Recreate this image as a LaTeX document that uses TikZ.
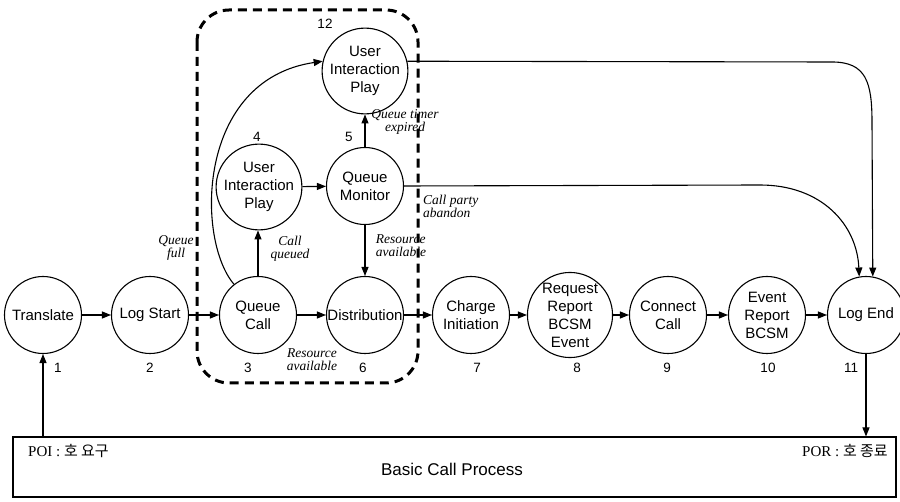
\documentclass[tikz,border=0pt]{standalone}
\usepackage{fontspec}
\setmainfont{Liberation Sans}
\newfontfamily\serifit{Liberation Serif}
\newfontfamily\kr{Noto Sans CJK KR}
\usetikzlibrary{arrows.meta}
\begin{document}
\begin{tikzpicture}[x=1pt,y=-1pt,
  state/.style={circle,draw,line width=1.1pt,minimum size=77pt,inner sep=0pt,align=center,
    font=\fontsize{15}{18}\selectfont},
  num/.style={font=\fontsize{13.5}{14}\selectfont},
  lab/.style={font=\serifit\itshape\fontsize{13.5}{13}\selectfont,align=center,inner sep=0pt},
  arr/.style={line width=1.1pt,-{Triangle[length=9pt,width=7pt]}},
  ln/.style={line width=1.1pt}]
\useasboundingbox (0,0) rectangle (900,502);
% dashed region
\draw[line width=3pt,dash pattern=on 9pt off 6pt,rounded corners=32pt] (197,10) rectangle (418,383);
% nodes
\node[state] (tr) at (43,315) {Translate};
\node[state] (ls) at (150,315) {Log Start};
\node[state] (qc) at (258,315) {Queue\\Call};
\node[state] (di) at (365,315) {Distribution};
\node[state] (ci) at (471,315) {Charge\\Initiation};
\node[state] (rr) at (570,315) {Request\\Report\\BCSM\\Event};
\node[state] (cc) at (668,315) {Connect\\Call};
\node[state] (er) at (767,315) {Event\\Report\\BCSM};
\node[state] (le) at (866,315) {Log End};
\node[state] (ui4) at (259,187) {User\\Interaction\\Play};
\node[state] (qm) at (365,186) {Queue\\Monitor};
\node[state] (ui12) at (365,71) {User\\Interaction\\Play};
% numbers
\node[num] (n1) at (58,368) {1};
\node[num] (n2) at (150,368) {2};
\node[num] (n3) at (248,368) {3};
\node[num] (n6) at (363,368) {6};
\node[num] (n7) at (477,368) {7};
\node[num] (n8) at (577,368) {8};
\node[num] (n9) at (667,368) {9};
\node[num] (n10) at (768,368) {10};
\node[num] (n11) at (851,368) {11};
\node[num] (n12) at (325,24) {12};
\node[num] (n4) at (257,137) {4};
\node[num] (n5) at (349,137) {5};
% bottom box
\node[draw,line width=1.1pt,minimum width=883pt,minimum height=60pt,inner sep=0pt] (bcp) at (454.5,467) {};
\node[font=\fontsize{17}{18}\selectfont] (bcpt) at (452,469) {Basic Call Process};
\node[anchor=west,font=\fontsize{15}{16}\selectfont,inner sep=0pt] (poi) at (28,451) {\serifit POI : \kr 호 요구};
\node[anchor=east,font=\fontsize{15}{16}\selectfont,inner sep=0pt] (por) at (888,451) {\serifit POR : \kr 호 종료};
% main chain
\draw[arr] (tr) -- (ls);
\draw[arr] (ls) -- (qc);
\draw[arr] (qc) -- (di);
\draw[arr] (di) -- (ci);
\draw[arr] (ci) -- (rr);
\draw[arr] (rr) -- (cc);
\draw[arr] (cc) -- (er);
\draw[arr] (er) -- (le);
\draw[arr] (bcp.north -| tr.south) -- (tr.south);
\draw[arr] (le.south) -- (bcp.north -| le.south);
% queue part
\draw[arr] (qc.north) -- (qc.north |- ui4.south);
\draw[arr] (ui4) -- (qm);
\draw[arr] (qm) -- (di);
\draw[arr] (qm) -- (ui12);
\draw[arr] (qc.128) .. controls (196,240) and (196,80) .. (ui12.167);
\draw[arr] (qm.east) -- (760,185) .. controls (822,185) and (857,225) .. (le.100);
\draw[arr] (ui12.13) -- (832,62) .. controls (866,62) and (872,82) .. (872,122) -- (le.80);
% labels
\node[lab] (l1) at (176,248) {Queue\\full};
\node[lab] (l2) at (290,249) {Call\\queued};
\node[lab,align=left] (l3) at (401,246) {Resource\\available};
\node[lab] (l4) at (312,360) {Resource\\available};
\node[lab] (l5) at (405,122) {Queue timer\\expired};
\node[lab,align=left,anchor=west] (l6) at (423,206) {Call party\\abandon};
\end{tikzpicture}
\end{document}
